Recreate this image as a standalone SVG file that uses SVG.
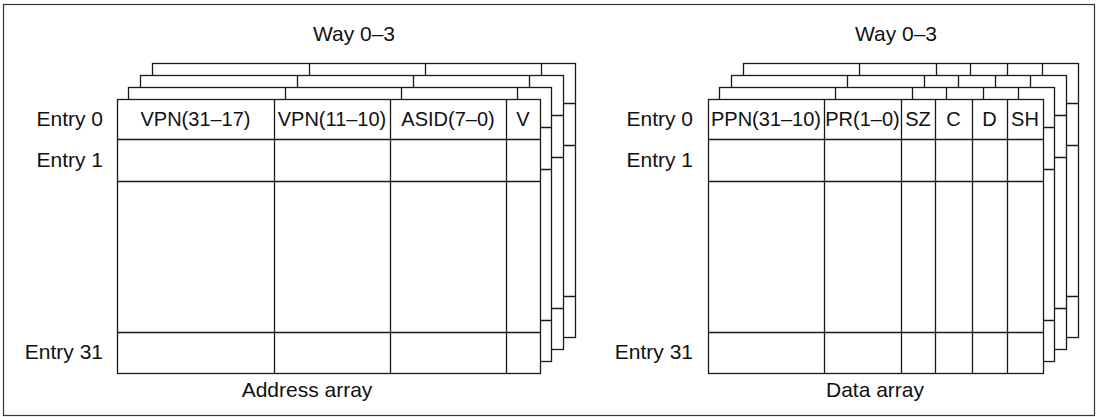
<svg xmlns="http://www.w3.org/2000/svg" xmlns:xlink="http://www.w3.org/1999/xlink" width="1100" height="417" viewBox="0 0 1100 417">
<style>
text{font-family:"Liberation Sans",Arial,sans-serif;font-size:20px;fill:#111}
.l{font-size:21px}
.c{text-anchor:middle}
.r{text-anchor:end}
.g rect{fill:#fff;stroke:#1a1a1a;stroke-width:1.3}
.g path{fill:none;stroke:#1a1a1a;stroke-width:1.3}
</style>
<defs>
<g id="addrGrid" class="g">
<rect x="0" y="0" width="423" height="274"/>
<path d="M0 40H423M0 82H423M0 233H423M157 0V274M273 0V274M389 0V274"/>
</g>
<g id="dataGrid" class="g">
<rect x="0" y="0" width="335" height="274"/>
<path d="M0 40H335M0 82H335M0 233H335M116 0V274M193 0V274M227 0V274M264 0V274M299 0V274"/>
</g>
</defs>
<rect x="3.5" y="4.5" width="1091" height="411" fill="#fff" stroke="#333" stroke-width="1.2"/>
<g id="address-array">
<use xlink:href="#addrGrid" transform="translate(152.5,63.5)"/>
<use xlink:href="#addrGrid" transform="translate(140.5,75.5)"/>
<use xlink:href="#addrGrid" transform="translate(128.5,87.5)"/>
<use xlink:href="#addrGrid" transform="translate(117.5,99.5)"/>
<text class="c l" x="354" y="41">Way 0–3</text>
<text class="c" x="195.5" y="126">VPN(31–17)</text>
<text class="c" x="332" y="126">VPN(11–10)</text>
<text class="c" x="448" y="126">ASID(7–0)</text>
<text class="c" x="523" y="126">V</text>
<text class="r l" x="103" y="126">Entry 0</text>
<text class="r l" x="103" y="167">Entry 1</text>
<text class="r l" x="103" y="359">Entry 31</text>
<text class="c l" x="307" y="397">Address array</text>
</g>
<g id="data-array">
<use xlink:href="#dataGrid" transform="translate(743.5,63.5)"/>
<use xlink:href="#dataGrid" transform="translate(731.5,75.5)"/>
<use xlink:href="#dataGrid" transform="translate(719.5,87.5)"/>
<use xlink:href="#dataGrid" transform="translate(708.5,99.5)"/>
<text class="c l" x="896" y="41">Way 0–3</text>
<text class="c" x="766" y="126">PPN(31–10)</text>
<text class="c" x="862.5" y="126">PR(1–0)</text>
<text class="c" x="918" y="126">SZ</text>
<text class="c" x="953.5" y="126">C</text>
<text class="c" x="989.5" y="126">D</text>
<text class="c" x="1025" y="126">SH</text>
<text class="r l" x="693" y="126">Entry 0</text>
<text class="r l" x="693" y="167">Entry 1</text>
<text class="r l" x="693" y="359">Entry 31</text>
<text class="c l" x="875" y="397">Data array</text>
</g>
</svg>
